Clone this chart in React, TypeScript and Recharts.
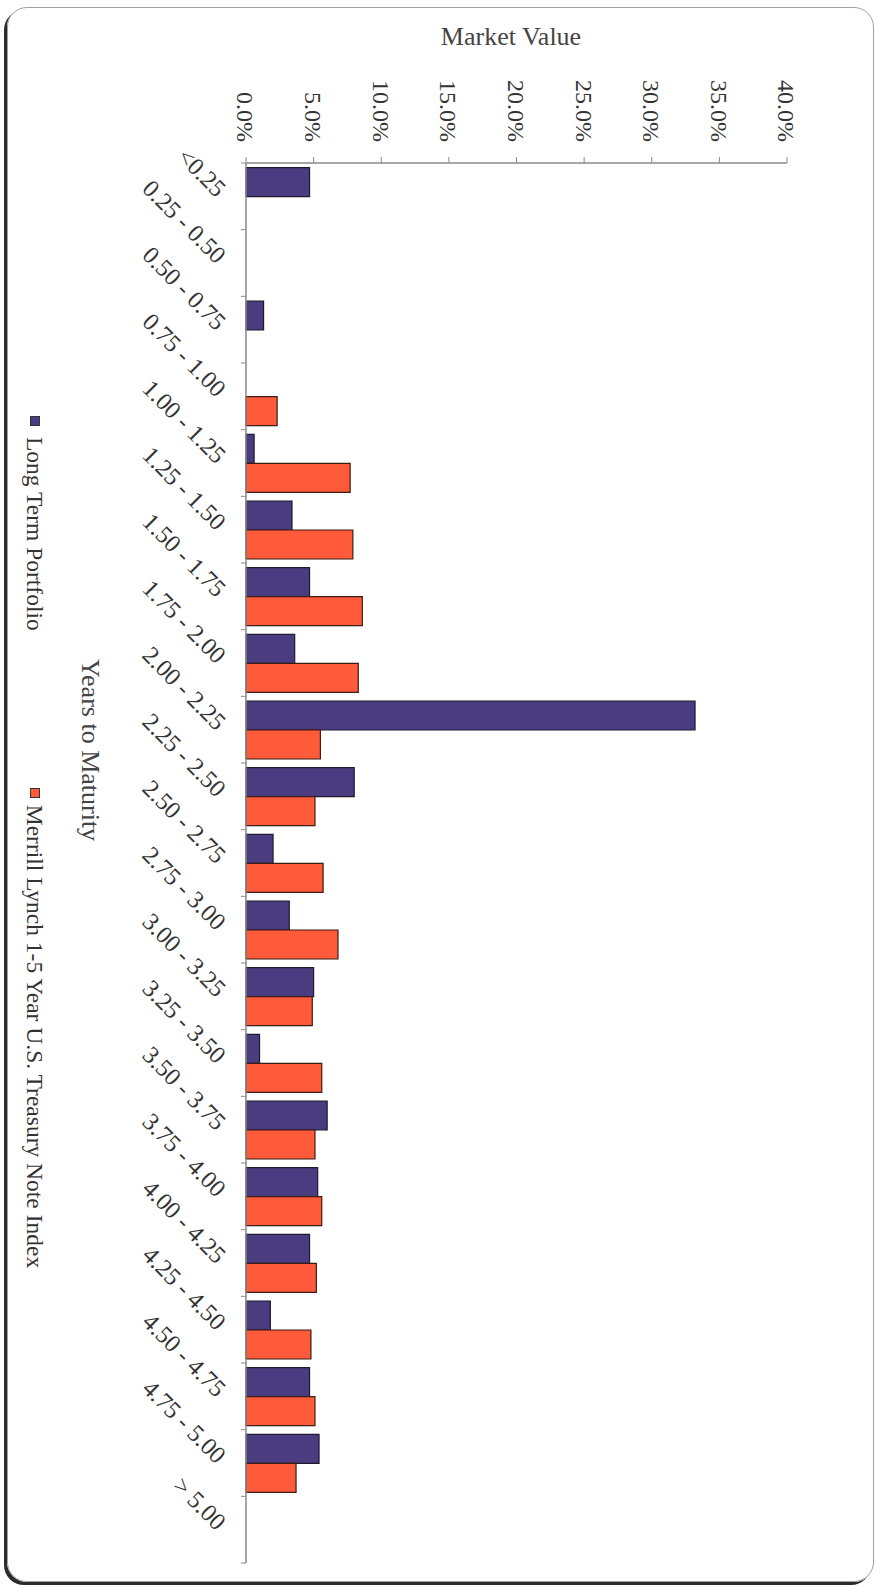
import { Bar, BarChart, Legend, XAxis, YAxis } from 'recharts';

// Maturity buckets (years) and share of market value, in percent
const BUCKETS = [
  '<0.25',
  '0.25 - 0.50',
  '0.50 - 0.75',
  '0.75 - 1.00',
  '1.00 - 1.25',
  '1.25 - 1.50',
  '1.50 - 1.75',
  '1.75 - 2.00',
  '2.00 - 2.25',
  '2.25 - 2.50',
  '2.50 - 2.75',
  '2.75 - 3.00',
  '3.00 - 3.25',
  '3.25 - 3.50',
  '3.50 - 3.75',
  '3.75 - 4.00',
  '4.00 - 4.25',
  '4.25 - 4.50',
  '4.50 - 4.75',
  '4.75 - 5.00',
  '> 5.00',
];
const PORTFOLIO = [4.7, 0, 1.3, 0, 0.6, 3.4, 4.7, 3.6, 33.2, 8.0, 2.0, 3.2, 5.0, 1.0, 6.0, 5.3, 4.7, 1.8, 4.7, 5.4, 0];
const BENCHMARK = [0, 0, 0, 2.3, 7.7, 7.9, 8.6, 8.3, 5.5, 5.1, 5.7, 6.8, 4.9, 5.6, 5.1, 5.6, 5.2, 4.8, 5.1, 3.7, 0];
const VALUE_TICKS = [0, 5, 10, 15, 20, 25, 30, 35, 40];

const PORTFOLIO_NAME = 'Long Term Portfolio';
const BENCHMARK_NAME = 'Merrill Lynch 1-5 Year U.S. Treasury Note Index';

// The column chart is laid out landscape and turned a quarter turn onto the page.
const W = 1588;
const H = 880;
const PLOT = { left: 163, right: 1563, top: 93, bottom: 634 };
const Y_AXIS_W = 80;
const X_AXIS_H = 60;
const BAND = (PLOT.right - PLOT.left) / BUCKETS.length;

const FONT = "'Liberation Serif', 'Times New Roman', serif";
const TEXT = '#333';
const AXIS = '#8a8a8a';

const rows = BUCKETS.map((bucket, i) => ({
  bucket,
  portfolio: PORTFOLIO[i],
  benchmark: BENCHMARK[i],
}));

function BucketTick(props: any) {
  const { x, index, payload } = props;
  const y = PLOT.bottom;
  const left = x - BAND / 2;
  const right = x + BAND / 2;
  const tx = x + 2;
  const ty = y + 30;
  return (
    <g>
      <line x1={left} x2={left} y1={y} y2={y + 5} stroke={AXIS} />
      {index === BUCKETS.length - 1 && <line x1={right} x2={right} y1={y} y2={y + 5} stroke={AXIS} />}
      <text
        x={tx}
        y={ty}
        textAnchor="end"
        transform={`rotate(-45 ${tx} ${ty})`}
        fontSize={24.5}
        fontFamily={FONT}
        fill={TEXT}
      >
        {payload.value}
      </text>
    </g>
  );
}

function SeriesLegend({ payload }: any) {
  return (
    <div style={{ display: 'flex', alignItems: 'center', fontFamily: FONT, fontSize: 23.5, color: TEXT, lineHeight: '30px', whiteSpace: 'nowrap' }}>
      {(payload || []).map((entry: any, i: number) => (
        <span key={entry.value} style={{ display: 'flex', alignItems: 'center', marginRight: i === 0 ? 157 : 0 }}>
          <span
            style={{
              display: 'inline-block',
              boxSizing: 'border-box',
              width: 10,
              height: 10,
              background: entry.color,
              border: '1px solid #333',
              marginRight: i === 0 ? 11 : 7,
            }}
          />
          <span>{entry.value}</span>
        </span>
      ))}
    </div>
  );
}

export default function App() {
  return (
    <div
      style={{
        position: 'absolute',
        left: 0,
        top: 0,
        width: W,
        height: H,
        background: '#fff',
        transformOrigin: '0 0',
        transform: `translateX(${H}px) rotate(90deg)`,
      }}
    >
      <div
        style={{
          position: 'absolute',
          left: 7,
          top: 6,
          width: 1575,
          height: 867,
          boxSizing: 'border-box',
          border: '1.5px solid #a0a0a0',
          borderRadius: 20,
          boxShadow: '3px 3px 0 #2b2b2b',
        }}
      />
      <div
        style={{
          position: 'absolute',
          left: 37,
          top: 369,
          transform: 'translate(-50%, -50%) rotate(-90deg)',
          fontFamily: FONT,
          fontSize: 26,
          color: '#444',
          whiteSpace: 'nowrap',
        }}
      >
        Market Value
      </div>
      <div
        style={{
          position: 'absolute',
          left: 750,
          top: 790,
          transform: 'translate(-50%, -50%)',
          fontFamily: FONT,
          fontSize: 26,
          color: '#444',
          whiteSpace: 'nowrap',
        }}
      >
        Years to Maturity
      </div>
      <div style={{ position: 'absolute', left: 0, top: 0 }}>
        <BarChart
          width={W}
          height={H}
          data={rows}
          margin={{
            top: PLOT.top,
            right: W - PLOT.right,
            bottom: H - PLOT.bottom - X_AXIS_H,
            left: PLOT.left - Y_AXIS_W,
          }}
          barCategoryGap="7%"
          barGap={0}
        >
          <XAxis
            dataKey="bucket"
            interval={0}
            height={X_AXIS_H}
            tickLine={false}
            axisLine={{ stroke: AXIS, strokeWidth: 1.5 }}
            tick={<BucketTick />}
          />
          <YAxis
            type="number"
            domain={[0, 40]}
            ticks={VALUE_TICKS}
            width={Y_AXIS_W}
            tickSize={6}
            tickMargin={15}
            tickFormatter={(v: number) => `${v.toFixed(1)}%`}
            axisLine={{ stroke: AXIS, strokeWidth: 1.5 }}
            tickLine={{ stroke: AXIS }}
            tick={{ fontSize: 24, fontFamily: FONT, fill: TEXT }}
          />
          <Legend
            layout="horizontal"
            verticalAlign="middle"
            align="center"
            content={<SeriesLegend />}
            wrapperStyle={{ left: 416, top: 830, width: 'auto', height: 30 }}
          />
          <Bar
            dataKey="portfolio"
            name={PORTFOLIO_NAME}
            fill="#4b3b80"
            stroke="#1f1a2e"
            strokeWidth={1.2}
            isAnimationActive={false}
          />
          <Bar
            dataKey="benchmark"
            name={BENCHMARK_NAME}
            fill="#ff5a3a"
            stroke="#3a1c14"
            strokeWidth={1.2}
            isAnimationActive={false}
          />
        </BarChart>
      </div>
    </div>
  );
}
